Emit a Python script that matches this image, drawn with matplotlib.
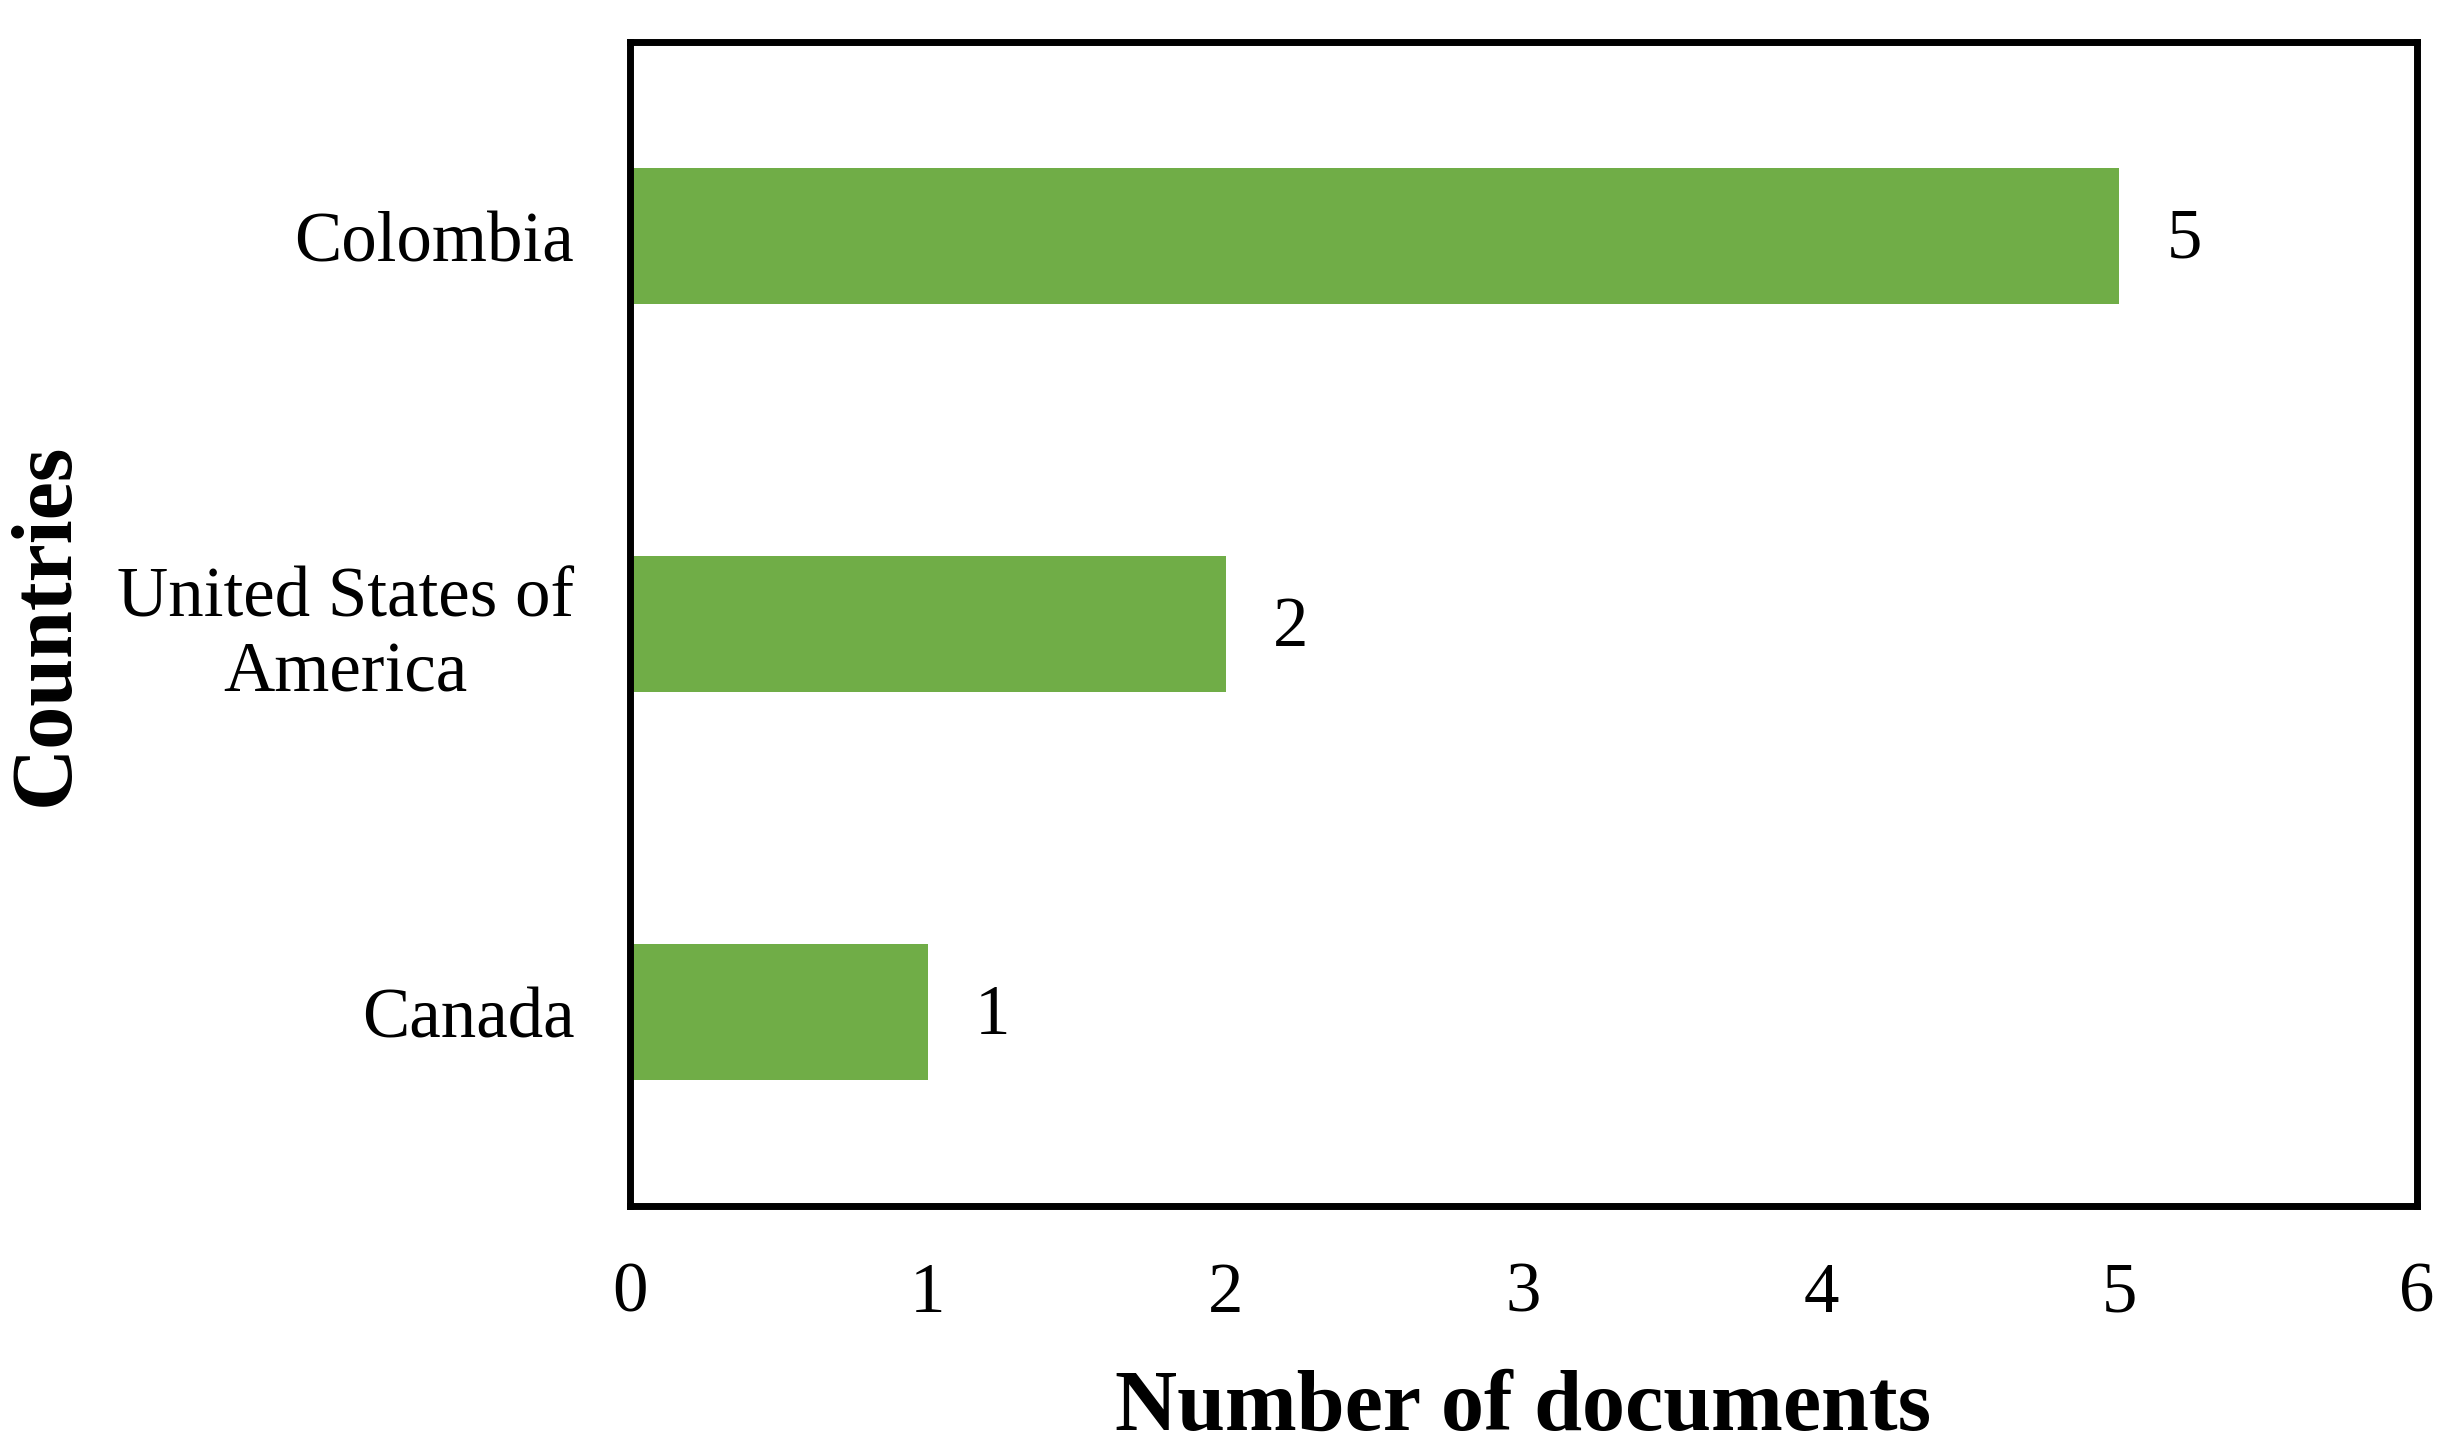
import matplotlib
matplotlib.use("Agg")
import matplotlib.pyplot as plt

paises = ["Canada", "United States of\nAmerica", "Colombia"]
documentos = [1, 2, 5]
xticks = [0, 1, 2, 3, 4, 5, 6]

plt.rcParams["font.family"] = ["Liberation Serif", "DejaVu Serif"]

fig = plt.figure(figsize=(24.53, 14.51), dpi=100)
ax = fig.add_axes([0.2568, 0.1688, 0.7285, 0.8022])

pos = list(range(len(paises)))
ax.barh(pos, documentos, height=0.35, color="#70AD47")

# etiquetas de valor a la derecha de cada barra
for y, v in zip(pos, documentos):
    ax.annotate(str(v), (v, y), xytext=(34, -3), textcoords="offset points",
                ha="left", va="center", fontsize=51)

ax.set_xlim(0, 6)
ax.set_ylim(-0.5, 2.5)
ax.set_xticks(xticks)
ax.set_xticklabels([str(t) for t in xticks], fontsize=51)
ax.set_yticks(pos)
ax.set_yticklabels(paises, fontsize=51, ha="right", multialignment="center",
                   linespacing=1.2)
ax.tick_params(axis="x", length=0, pad=40)
ax.tick_params(axis="y", length=0, pad=40)

for s in ax.spines.values():
    s.set_linewidth(5)
    s.set_color("black")

ax.set_xlabel("Number of documents", fontsize=62, fontweight="bold")
ax.set_ylabel("Countries", fontsize=62, fontweight="bold")
ax.xaxis.set_label_coords(0.5, -0.141)
ax.yaxis.set_label_coords(-0.304, 0.5)
ax.xaxis.label.set_va("top")

fig.savefig("out.png", dpi=100)
